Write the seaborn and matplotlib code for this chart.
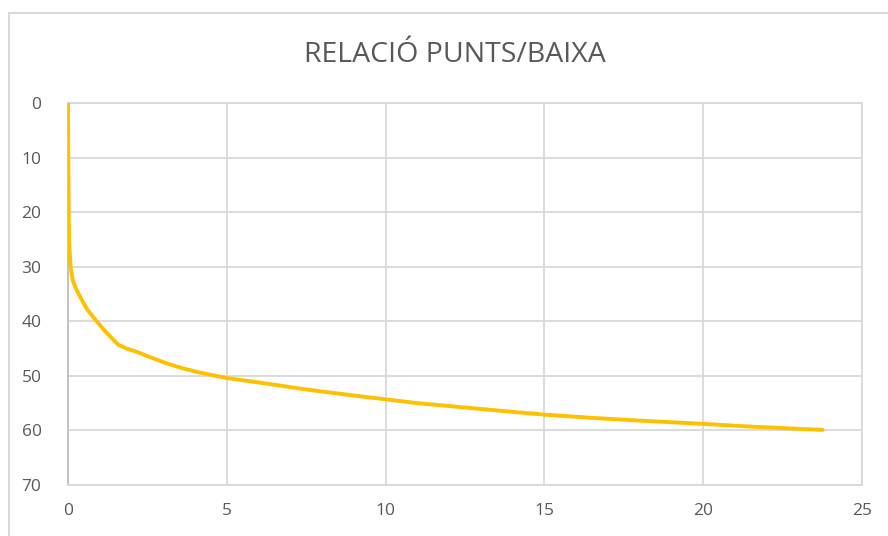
import matplotlib
matplotlib.use("Agg")
import matplotlib.pyplot as plt
import seaborn as sns
import pandas as pd
from matplotlib.lines import Line2D

# Data
punts = [0.0, 0.01, 0.02, 0.04, 0.08, 0.15, 0.25, 0.38, 0.6, 0.9, 1.2, 1.58, 1.85, 2.16,
         2.6, 3.1, 3.6, 4.15, 5.0, 6.0, 7.5, 9.0, 10.0, 11.0, 12.5, 14.0, 15.0, 16.5,
         18.0, 20.0, 21.5, 23.76]
baixa = [0.0, 10.0, 20.0, 26.0, 30.0, 32.5, 34.0, 35.5, 37.8, 40.0, 42.0, 44.3, 45.0, 45.6,
         46.6, 47.7, 48.6, 49.4, 50.4, 51.2, 52.5, 53.6, 54.3, 55.0, 55.8, 56.6, 57.1, 57.7,
         58.2, 58.8, 59.3, 59.9]
x_ticks = [0, 5, 10, 15, 20, 25]
y_ticks = [0, 10, 20, 30, 40, 50, 60, 70]
title = "RELACIÓ PUNTS/BAIXA"

df = pd.DataFrame({"punts": punts, "baixa": baixa})

sns.set_theme(style="white")
plt.rcParams["font.family"] = ["Open Sans", "DejaVu Sans"]

fig = plt.figure(figsize=(8.88, 5.36), dpi=100)
ax = fig.add_axes([68 / 888, 51 / 536, 794 / 888, 382 / 536])

sns.lineplot(data=df, x="punts", y="baixa", sort=False, color="#FFC000",
             linewidth=2.8, ax=ax, zorder=3)

ax.set_xlim(0, 25)
ax.set_ylim(70, 0)
ax.set_xticks(x_ticks)
ax.set_yticks(y_ticks)
ax.set_xlabel("")
ax.set_ylabel("")
ax.grid(True, color="#D9D9D9", linewidth=1.3)
ax.set_axisbelow(True)
for side, sp in ax.spines.items():
    sp.set_visible(True)
    sp.set_color("#D9D9D9")
    sp.set_linewidth(1.3)
ax.spines["left"].set_color("#BFBFBF")
ax.tick_params(axis="both", length=0, labelsize=12.5, colors="#595959")
ax.tick_params(axis="y", pad=19)
ax.tick_params(axis="x", pad=13)

fig.text(455 / 888, 1 - 55 / 536, title, ha="center", va="center",
         fontsize=20.5, color="#595959")

# chart border (top and left edges visible)
fig.add_artist(Line2D([9 / 888, 1.0], [1 - 13 / 536, 1 - 13 / 536],
                      transform=fig.transFigure, color="#D9D9D9", linewidth=1.5))
fig.add_artist(Line2D([9 / 888, 9 / 888], [0.0, 1 - 13 / 536],
                      transform=fig.transFigure, color="#D9D9D9", linewidth=1.5))

fig.savefig("out.png", dpi=100)
